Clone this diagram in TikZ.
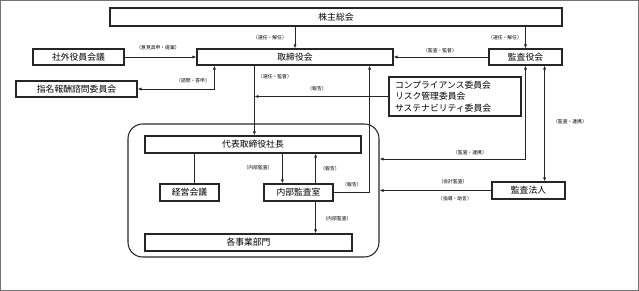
\documentclass[tikz,border=0pt]{standalone}
\usepackage{fontspec}
\setmainfont{Noto Sans CJK JP}
\usetikzlibrary{arrows.meta}
\tikzset{
  bx/.style={draw=black!85, line width=0.9pt, inner sep=0pt, font=\fontsize{6.6}{8}\selectfont},
  lbl/.style={inner sep=0pt, font=\fontsize{3.6}{4}\selectfont},
  ln/.style={draw=black!85, line width=0.6pt},
  arr/.style={ln, -{Latex[length=3pt,width=2.4pt]}},
  arrs/.style={ln, {Latex[length=3pt,width=2.4pt]}-{Latex[length=3pt,width=2.4pt]}},
}
\begin{document}
\begin{tikzpicture}[x=0.75pt,y=-0.75pt]
\useasboundingbox (0,0) rectangle (639,291);
\draw[black!55, line width=1pt] (0.7,0.7) rectangle (638.3,290.3);

% big rounded frame
\node[draw=black!85, line width=0.8pt, rounded corners=11pt, minimum width=188.25pt, minimum height=99.75pt, inner sep=0pt] (big) at (253.5,190.5) {};

% boxes
\node[bx, minimum width=339pt, minimum height=13.5pt] (sh) at (336,17) {株主総会};
\node[bx, minimum width=147pt, minimum height=12pt] (bd) at (295,57) {取締役会};
\node[bx, minimum width=54.75pt, minimum height=12pt] (kt) at (525.5,57) {監査役会};
\node[bx, minimum width=68.25pt, minimum height=12pt] (sg) at (78.5,57) {社外役員会議};
\node[bx, minimum width=90.75pt, minimum height=12pt] (sm) at (76.5,89) {指名報酬諮問委員会};
\node[bx, minimum width=99pt, minimum height=29.25pt, inner xsep=4.5pt, text width=90pt, align=left, font=\fontsize{6.6}{8.6}\selectfont] (cp) at (455,96.5) {コンプライアンス委員会\\リスク管理委員会\\サステナビリティ委員会};
\node[bx, minimum width=162pt, minimum height=12.75pt] (pr) at (253,144.5) {代表取締役社長};
\node[bx, minimum width=44.25pt, minimum height=12.75pt] (km) at (189.5,192.5) {経営会議};
\node[bx, minimum width=51.75pt, minimum height=12.75pt] (na) at (298.5,192.5) {内部監査室};
\node[bx, minimum width=155.25pt, minimum height=12.75pt] (jb) at (248.5,242.5) {各事業部門};
\node[bx, minimum width=54.75pt, minimum height=12.75pt] (ah) at (528.5,190.5) {監査法人};

% helper coordinates
\coordinate (vx) at ([xshift=43.5pt]bd.south west);
\coordinate (kx) at ([xshift=-13.5pt]kt.south east);

% connectors
\draw[arr] (sh.south -| bd.north) -- (bd.north);
\draw[arr] (sh.south -| kt.north) -- (kt.north);
\draw[arr] (sg.east) -- (bd.west);
\draw[arr] (kt.west) -- (bd.east);
\draw[arrs] (sm.east) -| ([xshift=13.5pt]bd.south west);
\draw[arr] (vx) -- (vx |- pr.north);
\draw[arr] (cp.west) -- (cp.west -| vx);
\draw[arr] (na.east) -| ([xshift=-18pt]bd.south east);
\draw[arrs] (kt.south) |- ([yshift=23.6pt]big.east);
\draw[arrs] (kx) -- (kx |- ah.north);
\draw[arr] (ah.west) -- (ah.west -| big.east);
\draw[ln] ([xshift=3.4pt]km.north) -- ([xshift=3.4pt]km.north |- pr.south);
\draw[arr] ([xshift=14.25pt]na.north west |- pr.south) -- ([xshift=14.25pt]na.north west);
\draw[arr] ([xshift=-13.5pt]na.north east) -- ([xshift=-13.5pt]na.north east |- pr.south);
\draw[arr] ([xshift=-13.5pt]na.south east) -- ([xshift=-13.5pt]na.south east |- jb.north);

% labels
\node[lbl] (l1) at (270,38) {（選任・解任）};
\node[lbl] (l2) at (505,38) {（選任・解任）};
\node[lbl] (l3) at (158,48) {（意見具申・提案）};
\node[lbl] (l4) at (193,81) {（諮問・答申）};
\node[lbl] (l5) at (440,51) {（監査・監督）};
\node[lbl] (l6) at (275,77) {（選任・監督）};
\node[lbl] (l7) at (317,89) {（報告）};
\node[lbl] (l8) at (258,168) {（内部監査）};
\node[lbl] (l9) at (330,169) {（報告）};
\node[lbl] (l10) at (352,185) {（報告）};
\node[lbl] (l11) at (337,219) {（内部監査）};
\node[lbl] (l12) at (470,153) {（監査・連携）};
\node[lbl] (l13) at (570,122) {（監査・連携）};
\node[lbl] (l14) at (453,182) {（会計監査）};
\node[lbl] (l15) at (455,199) {（指導・助言）};
\end{tikzpicture}
\end{document}
